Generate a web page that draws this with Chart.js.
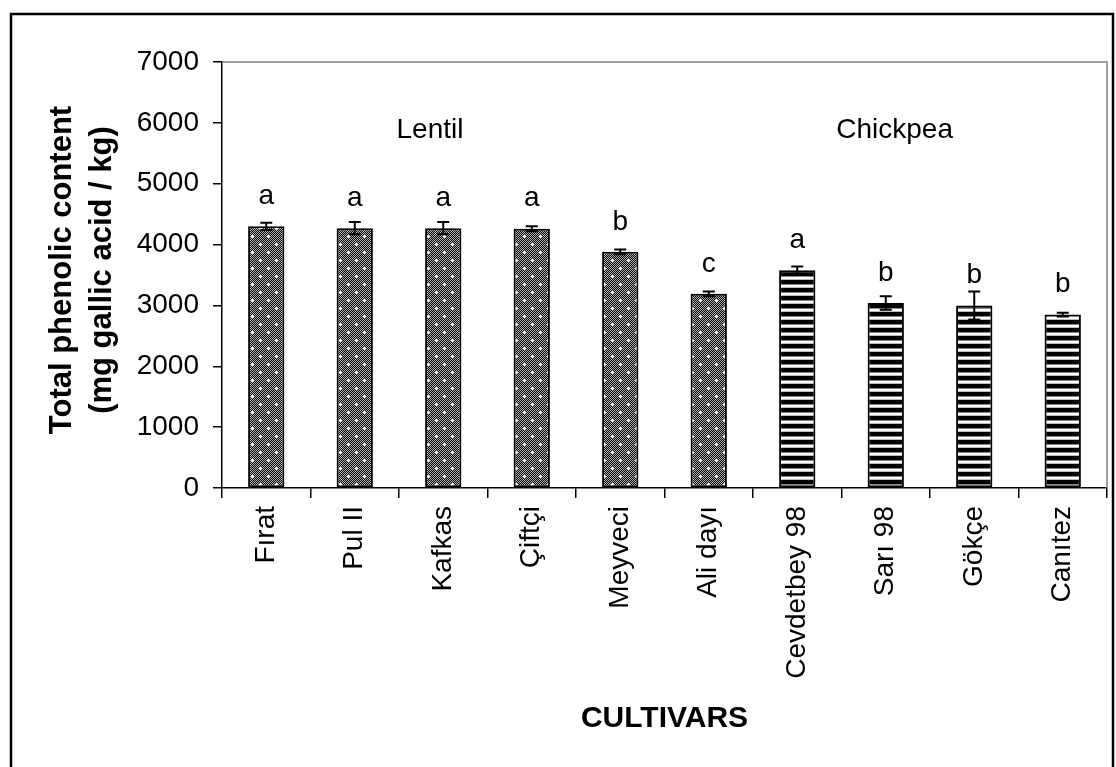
<!DOCTYPE html>
<html>
<head>
<meta charset="utf-8">
<script src="https://cdn.jsdelivr.net/npm/chart.js@4"></script>
<style>
html,body{margin:0;padding:0;background:#fff;}
#wrap{width:1116px;height:767px;position:relative;}
</style>
</head>
<body>
<div id="wrap"><canvas id="chart" width="1116" height="767"></canvas></div>
<script>
// data
var cultivars = ['Fırat', 'Pul II', 'Kafkas', 'Çiftçi', 'Meyveci', 'Ali dayı', 'Cevdetbey 98', 'Sarı 98', 'Gökçe', 'Canıtez'];
var phenolic = [4300, 4270, 4270, 4260, 3880, 3190, 3580, 3040, 3000, 2850];
var errors = [60, 100, 100, 40, 40, 40, 60, 110, 230, 30];
var letters = ['a', 'a', 'a', 'a', 'b', 'c', 'a', 'b', 'b', 'b'];
var crop = ['Lentil', 'Lentil', 'Lentil', 'Lentil', 'Lentil', 'Lentil', 'Chickpea', 'Chickpea', 'Chickpea', 'Chickpea'];
var yTicks = [0, 1000, 2000, 3000, 4000, 5000, 6000, 7000];

var FONT = '"Liberation Sans", Arial, sans-serif';

// dotted grey fill for lentils
function dotPattern() {
  var c = document.createElement('canvas');
  c.width = 16; c.height = 16;
  var g = c.getContext('2d');
  for (var y = 0; y < 16; y++) {
    for (var x = 0; x < 16; x++) {
      g.fillStyle = (x + y) % 2 ? '#000' : '#b4b4b4';
      g.fillRect(x, y, 1, 1);
    }
  }
  g.fillStyle = '#fff';
  [[4, 4], [12, 12]].forEach(function (p) {
    g.fillRect(p[0] - 1, p[1], 3, 1);
    g.fillRect(p[0], p[1] - 1, 1, 3);
  });
  return g.createPattern(c, 'repeat');
}

// horizontal stripes for chickpeas
function stripePattern() {
  var c = document.createElement('canvas');
  c.width = 8; c.height = 8;
  var g = c.getContext('2d');
  var rows = ['#000', '#000', '#000', '#000', '#888', '#fff', '#fff', '#bbb'];
  rows.forEach(function (col, i) {
    g.fillStyle = col;
    g.fillRect(0, i, 8, 1);
  });
  return g.createPattern(c, 'repeat');
}

var dots = dotPattern();
var stripes = stripePattern();
var fills = crop.map(function (c) { return c === 'Lentil' ? dots : stripes; });

var extras = {
  id: 'extras',
  afterDatasetsDraw: function (chart) {
    var ctx = chart.ctx, x = chart.scales.x, y = chart.scales.y;
    ctx.save();
    ctx.strokeStyle = '#000';
    ctx.lineWidth = 2;
    phenolic.forEach(function (v, i) {
      var cx = x.getPixelForValue(i);
      var t = y.getPixelForValue(v + errors[i]);
      var b = y.getPixelForValue(v - errors[i]);
      ctx.beginPath();
      ctx.moveTo(cx, t); ctx.lineTo(cx, b);
      ctx.moveTo(cx - 6, t); ctx.lineTo(cx + 6, t);
      ctx.moveTo(cx - 6, b); ctx.lineTo(cx + 6, b);
      ctx.stroke();
    });
    ctx.restore();
  },
  afterDraw: function (chart) {
    var ctx = chart.ctx, a = chart.chartArea, x = chart.scales.x, y = chart.scales.y;
    ctx.save();
    // plot frame top/right
    ctx.strokeStyle = '#808080';
    ctx.lineWidth = 1.5;
    ctx.beginPath();
    ctx.moveTo(a.left, a.top); ctx.lineTo(a.right, a.top); ctx.lineTo(a.right, a.bottom);
    ctx.stroke();
    // outer frame
    ctx.strokeStyle = '#000';
    ctx.lineWidth = 2.5;
    ctx.beginPath();
    ctx.moveTo(11, 767); ctx.lineTo(11, 14); ctx.lineTo(1113, 14); ctx.lineTo(1113, 767);
    ctx.stroke();

    ctx.fillStyle = '#000';
    ctx.textAlign = 'center';
    ctx.textBaseline = 'middle';
    ctx.font = '28px ' + FONT;
    letters.forEach(function (l, i) {
      ctx.fillText(l, x.getPixelForValue(i), y.getPixelForValue(phenolic[i]) - 30);
    });
    // group names
    var step = x.getPixelForValue(1) - x.getPixelForValue(0);
    ctx.fillText('Lentil', x.getPixelForValue(1) + step * 0.85, y.getPixelForValue(5870));
    ctx.fillText('Chickpea', x.getPixelForValue(7) + step * 0.1, y.getPixelForValue(5870));

    // axis titles
    ctx.font = 'bold 30px ' + FONT;
    ctx.fillText('CULTIVARS', (a.left + a.right) / 2, 719);
    ctx.font = 'bold 31px ' + FONT;
    ctx.translate(82, 270);
    ctx.rotate(-Math.PI / 2);
    ctx.fillText('Total phenolic content', 0, -20);
    ctx.fillText('(mg gallic acid / kg)', 0, 20);
    ctx.restore();
  }
};

var ctx = document.getElementById('chart').getContext('2d');
var phenolicChart = new Chart(ctx, {
  type: 'bar',
  data: {
    labels: cultivars,
    datasets: [{
      label: 'Total phenolic content',
      data: phenolic,
      backgroundColor: fills,
      borderColor: '#000',
      borderWidth: 2,
      borderSkipped: false,
      categoryPercentage: 1,
      barPercentage: 0.41
    }]
  },
  options: {
    responsive: false,
    animation: false,
    layout: { padding: { top: 62, right: 9, left: 0, bottom: 0 } },
    plugins: { legend: { display: false }, tooltip: { enabled: false } },
    scales: {
      x: {
        grid: { drawOnChartArea: false, tickLength: 10, color: '#000', lineWidth: 1.5, offset: true },
        border: { color: '#000', width: 1.5 },
        ticks: {
          color: '#000', font: { family: FONT, size: 28 },
          minRotation: 90, maxRotation: 90, autoSkip: false, padding: 8
        },
        afterFit: function (s) { s.height = 279; }
      },
      y: {
        min: 0, max: 7000,
        afterBuildTicks: function (s) { s.ticks = yTicks.map(function (v) { return { value: v }; }); },
        grid: { drawOnChartArea: false, tickLength: 9, color: '#000', lineWidth: 1.5 },
        border: { color: '#000', width: 1.5 },
        ticks: {
          color: '#000', font: { family: FONT, size: 28 }, padding: 14,
          callback: function (v) { return String(v); }
        },
        afterFit: function (s) { s.width = 222; }
      }
    }
  },
  plugins: [extras]
});
</script>
</body>
</html>
